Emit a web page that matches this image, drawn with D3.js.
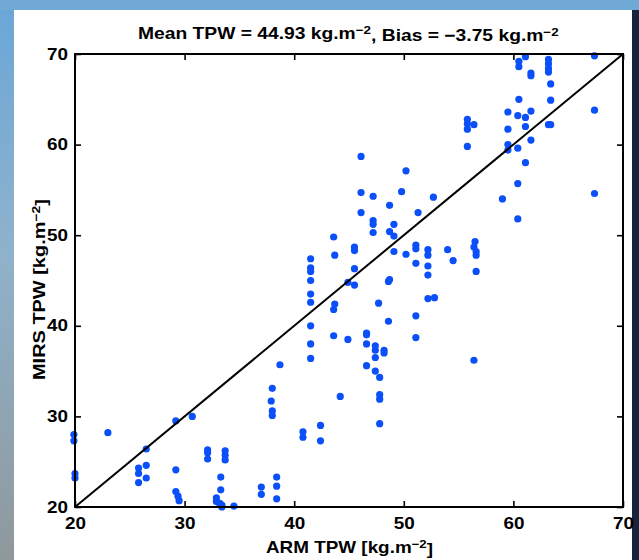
<!DOCTYPE html>
<html><head><meta charset="utf-8">
<script src="https://cdn.jsdelivr.net/npm/d3@7"></script>
<style>
html,body{margin:0;padding:0;background:#fff;}
svg{display:block;}
text{font-family:"Liberation Sans",Arial,sans-serif;font-weight:bold;fill:#000;}
</style></head>
<body>
<script>
// ---- data ----
const armTPW = [19.9,19.9,20.0,20.0,23.0,26.5,25.8,25.8,25.8,26.5,26.5,29.2,30.7,29.2,29.2,29.4,29.5,
 32.1,32.1,32.1,33.7,33.7,33.7,33.3,33.3,32.9,32.9,33.2,33.4,33.4,34.5,37.0,37.0,38.4,38.4,38.4,
 38.0,37.9,38.0,38.0,38.7,40.8,40.8,42.4,42.4,
 41.5,41.5,41.5,41.5,41.5,41.5,41.5,41.5,41.5,
 43.7,43.6,43.6,44.2,43.6,43.7,44.9,45.5,44.9,45.5,45.5,45.5,
 46.1,46.1,46.1,47.2,47.2,47.2,47.2,48.7,48.7,48.7,49.1,49.1,49.1,49.8,50.2,50.2,
 51.3,51.1,51.1,51.1,52.7,52.2,52.2,52.2,52.2,54.0,54.5,48.6,52.2,52.8,47.7,48.6,51.1,51.1,
 46.6,46.6,46.6,47.4,47.4,48.2,48.2,47.4,46.6,47.4,47.8,47.8,47.8,47.8,
 56.4,56.6,56.5,56.4,56.6,56.6,
 61.1,60.5,60.5,63.2,63.2,63.2,63.2,67.4,61.6,61.6,63.4,60.5,63.4,
 59.5,60.4,61.1,61.6,67.4,55.8,55.8,55.8,56.4,55.8,59.5,61.1,63.2,63.4,
 61.6,59.5,59.5,60.4,61.1,60.4,59.0,60.4,67.4];
const mirsTPW = [28.0,27.3,23.7,23.2,28.2,26.4,24.3,23.7,22.7,24.6,23.2,29.5,30.0,24.1,21.7,21.2,20.7,
 26.3,26.0,25.3,26.2,25.7,25.2,23.3,21.9,21.0,20.6,20.4,20.2,20.0,20.1,22.2,21.4,23.3,22.3,20.9,
 33.1,31.7,30.6,30.1,35.7,28.3,27.7,29.0,27.3,
 47.4,46.4,46.0,45.0,43.5,42.6,40.0,38.0,36.4,
 42.4,41.8,38.9,32.2,49.8,47.8,44.8,44.5,38.5,48.7,48.3,46.3,
 58.7,54.7,52.5,54.3,51.6,51.2,50.3,53.3,50.4,45.1,51.2,49.9,48.2,54.8,57.1,47.9,
 52.5,48.9,48.5,46.9,54.2,48.4,47.8,46.6,45.6,48.4,47.2,44.9,43.0,43.1,42.5,40.5,41.1,38.7,
 39.2,39.0,38.0,37.8,37.3,37.3,37.0,36.5,35.6,35.0,34.3,32.4,31.9,29.2,
 36.2,46.0,49.3,48.7,48.2,47.8,
 69.7,69.2,68.6,69.4,68.9,68.4,68.0,69.8,67.9,67.6,66.7,65.0,64.9,
 63.6,63.2,63.0,63.7,63.8,62.8,62.3,61.7,62.2,59.8,61.7,62.0,62.2,62.2,
 60.5,60.0,59.4,59.6,58.0,55.7,54.0,51.8,54.6];
const xTicks = [20,30,40,50,60,70];
const yTicks = [20,30,40,50,60,70];
const domain = [20,70];
const meanTPW = "44.93";
const bias = "\u22123.75";

const W = 639, H = 560;
const svg = d3.select("body").append("svg").attr("width",W).attr("height",H);

// slide background
const defs = svg.append("defs");
const lg = defs.append("linearGradient").attr("id","leftg").attr("x1",0).attr("y1",0).attr("x2",0).attr("y2",1);
lg.append("stop").attr("offset","0%").attr("stop-color","#6aa6d8");
lg.append("stop").attr("offset","45%").attr("stop-color","#8fb2cc");
lg.append("stop").attr("offset","100%").attr("stop-color","#8f989c");
svg.append("rect").attr("x",0).attr("y",0).attr("width",W).attr("height",H).attr("fill","url(#leftg)");
svg.append("rect").attr("x",0).attr("y",0).attr("width",W).attr("height",10).attr("fill","#70a8d6");
svg.append("rect").attr("x",632).attr("y",10).attr("width",7).attr("height",H-10).attr("fill","#16243c");
svg.append("rect").attr("x",14).attr("y",10).attr("width",618).attr("height",H-10).attr("fill","#ffffff");

const m = {l:75, r:623, t:54, b:507};
const x = d3.scaleLinear().domain(domain).range([m.l, m.r]);
const y = d3.scaleLinear().domain(domain).range([m.b, m.t]);

// points
svg.append("g").selectAll("circle").data(armTPW.map((v,i)=>[v,mirsTPW[i]])).join("circle")
  .attr("cx",d=>x(d[0])).attr("cy",d=>y(d[1])).attr("r",3.6).attr("fill","#0a4ff7");

// 1:1 line
svg.append("line").attr("x1",x(domain[0])).attr("y1",y(domain[0])).attr("x2",x(domain[1])).attr("y2",y(domain[1]))
  .attr("stroke","#000").attr("stroke-width",2);

// axes
const TS = 1.18;
function styleAx(g, labels){
  g.select(".domain").remove();
  g.selectAll(".tick line").attr("stroke","#000").attr("stroke-width",1.6);
  g.selectAll(".tick text").attr("font-size","16px").attr("font-family","Liberation Sans, Arial, sans-serif")
    .attr("font-weight","bold").attr("fill","#000").attr("transform",`scale(${TS},1)`);
  if(!labels) g.selectAll(".tick text").remove();
}
svg.append("g").attr("transform",`translate(0,${m.b})`).call(d3.axisBottom(x).tickValues(xTicks).tickSize(-6).tickPadding(10.5)).call(g=>styleAx(g,true));
svg.append("g").attr("transform",`translate(0,${m.t})`).call(d3.axisTop(x).tickValues(xTicks).tickSize(-6)).call(g=>styleAx(g,false));
svg.append("g").attr("transform",`translate(${m.l},0)`).call(d3.axisLeft(y).tickValues(yTicks).tickSize(-6).tickPadding(6)).call(g=>styleAx(g,true));
svg.append("g").attr("transform",`translate(${m.r},0)`).call(d3.axisRight(y).tickValues(yTicks).tickSize(-6)).call(g=>styleAx(g,false));

// frame
svg.append("rect").attr("x",m.l).attr("y",m.t).attr("width",m.r-m.l).attr("height",m.b-m.t)
  .attr("fill","none").attr("stroke","#000").attr("stroke-width",2);

// helper: text with superscript, fitted to a target width
function supText(parts, fs, sfs){
  const t = svg.append("text").attr("font-size",fs+"px");
  parts.forEach(p=>{
    if(p.sup){ t.append("tspan").attr("dy","-0.42em").attr("font-size",sfs+"px").text(p.s); }
    else { t.append("tspan").attr("dy", p.after? "0.42em":null).text(p.s); }
  });
  return t;
}
function fit(t, tx, ty, targetW, rot){
  const w = t.node().getBBox().width;
  const s = targetW / w;
  t.attr("transform",`translate(${tx},${ty})${rot?" rotate(-90)":""} scale(${s},1)`);
}
// title
const title = supText([{s:`Mean TPW = ${meanTPW} kg.m`},{s:"\u22122",sup:true},{s:`, Bias = ${bias} kg.m`,after:true},{s:"\u22122",sup:true}],16.5,11.5);
fit(title, 138, 38.5, 421, false);
// x label
const xl = supText([{s:"ARM TPW [kg.m"},{s:"\u22122",sup:true},{s:"]",after:true}],16.5,11.5);
fit(xl, 266, 553, 167, false);
// y label
const yl = supText([{s:"MIRS TPW [kg.m"},{s:"\u22122",sup:true},{s:"]",after:true}],16.5,11.5);
fit(yl, 45, 380, 181, true);
</script>
</body></html>
